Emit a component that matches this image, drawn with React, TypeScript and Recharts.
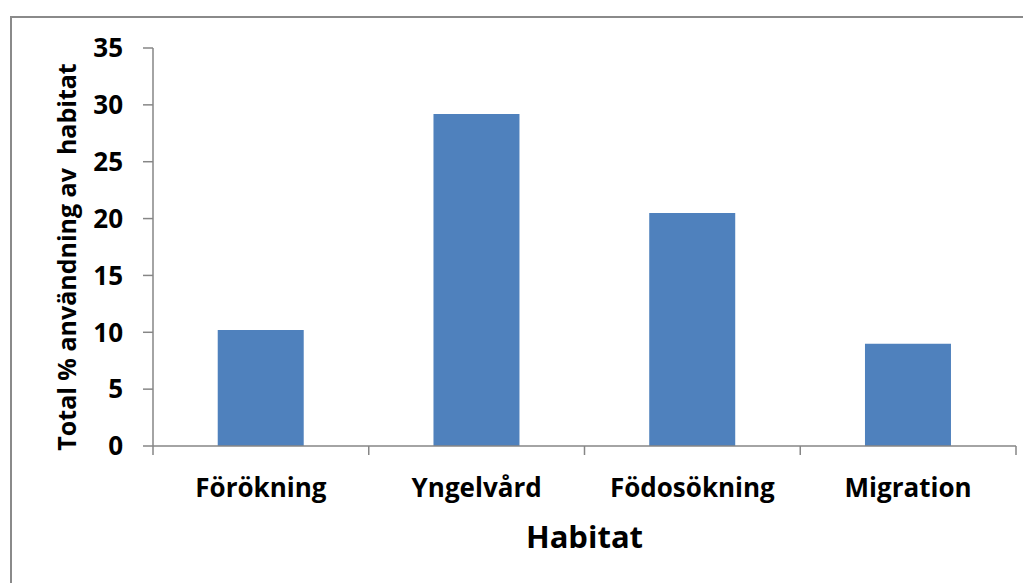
import * as React from 'react';
import { BarChart, Bar, XAxis, YAxis } from 'recharts';

const habitats = ['Förökning', 'Yngelvård', 'Födosökning', 'Migration'];
const usage = [10.2, 29.2, 20.5, 9.0];
const yTicks = [0, 5, 10, 15, 20, 25, 30, 35];

const data = habitats.map((h, i) => ({ habitat: h, value: usage[i] }));

const FONT = '"Open Sans", "Noto Sans", sans-serif';
const AXIS = '#868686';

const HabitatTick = (props: any) => {
  const { x, y, payload, index, width } = props;
  const half = (width ?? 863) / habitats.length / 2;
  return (
    <g>
      {index === 0 && (
        <line x1={x - half} x2={x - half} y1={y} y2={y + 9} stroke={AXIS} strokeWidth={1.5} />
      )}
      <line x1={x + half} x2={x + half} y1={y} y2={y + 9} stroke={AXIS} strokeWidth={1.5} />
      <text x={x} y={y + 51} textAnchor="middle" fontFamily={FONT} fontWeight={700} fontSize={26} fill="#000">
        {payload.value}
      </text>
    </g>
  );
};

const YTitle = (props: any) => {
  const { viewBox } = props;
  const cx = 58;
  const cy = viewBox.y + viewBox.height / 2 + 10;
  return (
    <text
      x={cx}
      y={cy}
      transform={`rotate(-90 ${cx} ${cy})`}
      textAnchor="middle"
      dominantBaseline="central"
      fontFamily={FONT}
      fontWeight={700}
      fontSize={25}
      fill="#000"
      style={{ whiteSpace: 'pre' }}
    >
      Total % användning av  habitat
    </text>
  );
};

const XTitle = (props: any) => {
  const { viewBox } = props;
  const cx = viewBox.x + viewBox.width / 2;
  return (
    <text x={cx} y={viewBox.y + 102} textAnchor="middle" fontFamily={FONT} fontWeight={700} fontSize={31} fill="#000">
      Habitat
    </text>
  );
};

const App: React.FC = () => {
  return (
    <div style={{ position: 'relative', width: 1023, height: 575 }}>
      <div
        style={{
          position: 'absolute',
          left: 2,
          top: 8,
          width: 1040,
          height: 600,
          border: '2px solid #8a8a8a',
          boxSizing: 'border-box',
        }}
      />
      <div style={{ position: 'absolute', left: 0, top: 0 }}>
        <BarChart
          width={1023}
          height={575}
          data={data}
          margin={{ top: 40, right: 15, left: 0, bottom: 0 }}
          barCategoryGap="30%"
        >
          <XAxis
            dataKey="habitat"
            height={137}
            stroke={AXIS}
            strokeWidth={1.5}
            tickLine={false}
            tickSize={0}
            tickMargin={0}
            tick={<HabitatTick />}
            interval={0}
            label={<XTitle />}
          />
          <YAxis
            width={145}
            domain={[0, 35]}
            ticks={yTicks}
            interval={0}
            stroke={AXIS}
            strokeWidth={1.5}
            tickSize={10}
            tickMargin={20}
            tick={{ fill: '#000', fontFamily: FONT, fontWeight: 700, fontSize: 26 }}
            label={<YTitle />}
          />
          <Bar dataKey="value" fill="#4F81BD" isAnimationActive={false} />
        </BarChart>
      </div>
    </div>
  );
};

export default App;
